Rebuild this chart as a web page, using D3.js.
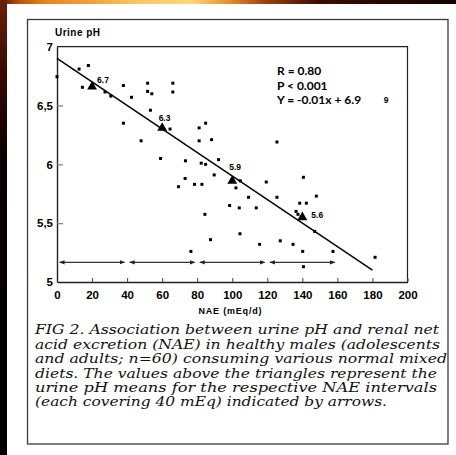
<!DOCTYPE html>
<html><head><meta charset="utf-8">
<script src="https://cdn.jsdelivr.net/npm/d3@7/dist/d3.min.js"></script>
<style>
html,body{margin:0;padding:0;background:#fff;}
svg{display:block;}
</style></head>
<body>
<script>
// ---- data ----
const nae = [0,12.6,17.9,14.5,27.4,30.7,37.9,37.9,42.5,48,51.7,51.7,54.1,53.3,66.1,66.1,64.5,59.1,
  81.1,84.8,81.1,88.2,125.5,73.3,82.3,84.8,92.2,73.1,69.3,78.5,82.7,89.7,104.6,102.1,109.3,98.5,104,
  113.7,119.4,125.5,84.4,104.4,87.6,76.4,115.6,127.4,140.6,148,138.5,142.3,136.4,137.5,147,134.7,
  140.2,157.5,181.5,140.6];
const ph = [6.745,6.81,6.84,6.655,6.615,6.58,6.67,6.35,6.57,6.2,6.69,6.62,6.60,6.46,6.69,6.615,6.30,6.05,
  6.31,6.35,6.20,6.21,6.19,6.03,6.01,6.00,6.04,5.88,5.81,5.83,5.83,5.91,5.86,5.80,5.72,5.65,5.63,
  5.63,5.85,5.72,5.575,5.41,5.36,5.26,5.32,5.35,5.89,5.73,5.67,5.67,5.60,5.575,5.43,5.32,
  5.26,5.26,5.21,5.13];
const meanNae = [20, 60, 100, 140];
const meanPh = [6.66, 6.31, 5.86, 5.55];
const meanLabels = ["6.7", "6.3", "5.9", "5.6"];
const intervalStart = [0, 40, 80, 120];
const intervalEnd = [40, 80, 120, 160];
const arrowPh = 5.167;
const xTicks = [0,20,40,60,80,100,120,140,160,180,200];
const yTicks = [5,5.5,6,6.5,7];
const fitSlope = -0.01, fitIntercept = 6.9, fitRange = [0, 180];
const statLines = ["R = 0.80", "P < 0.001", "Y = -0.01x + 6.9"];
const captionLines = [
  "FIG 2. Association between urine pH and renal net",
  "acid excretion (NAE) in healthy males (adolescents",
  "and adults; n=60) consuming various normal mixed",
  "diets. The values above the triangles represent the",
  "urine pH means for the respective NAE intervals",
  "(each covering 40 mEq) indicated by arrows."
];

// ---- layout ----
const W = 456, H = 455;
const svg = d3.select("body").append("svg").attr("width", W).attr("height", H);
const defs = svg.append("defs");

const gTop = defs.append("linearGradient").attr("id","gTop");
[[0,"#4a1204"],[0.04,"#b8500e"],[0.1,"#e8861c"],[0.2,"#f0a040"],[0.3,"#f6c860"],[0.42,"#fbd878"],[0.5,"#e89030"],[0.58,"#a04010"],[0.7,"#3a0c02"],[1,"#140200"]]
  .forEach(s => gTop.append("stop").attr("offset", s[0]).attr("stop-color", s[1]));
const gLeft = defs.append("linearGradient").attr("id","gLeft").attr("x1",0).attr("y1",0).attr("x2",0).attr("y2",1);
[[0,"#6a2008"],[0.15,"#3a0a02"],[0.35,"#0a0000"],[1,"#000"]]
  .forEach(s => gLeft.append("stop").attr("offset", s[0]).attr("stop-color", s[1]));

svg.append("rect").attr("x",0).attr("y",0).attr("width",W).attr("height",4).attr("fill","url(#gTop)");
svg.append("rect").attr("x",0).attr("y",0).attr("width",7).attr("height",H).attr("fill","url(#gLeft)");

// outer frame
svg.append("rect").attr("x",27.5).attr("y",19.5).attr("width",420.5).attr("height",424.5)
  .attr("fill","none").attr("stroke","#3a3a3a").attr("stroke-width",1.3);

const x = d3.scaleLinear().domain([0,200]).range([57,407.5]);
const y = d3.scaleLinear().domain([5,7]).range([282,46.7]);

// plot box top/right
svg.append("path").attr("d", `M${x(0)},${y(7)}H${x(200)}V${y(5)}`)
  .attr("fill","none").attr("stroke","#222").attr("stroke-width",1.2);

// x axis
const xAxis = svg.append("g").attr("transform",`translate(0,${y(5)})`)
  .call(d3.axisBottom(x).tickValues(xTicks).tickSize(-4).tickSizeOuter(0).tickPadding(9));
xAxis.select(".domain").attr("stroke","#222").attr("stroke-width",1.4);
xAxis.selectAll(".tick line").attr("stroke","#444").attr("stroke-width",1);
xAxis.selectAll(".tick text").attr("font-family","Liberation Sans, Arial, sans-serif")
  .attr("font-size",11.5).attr("font-weight","bold").attr("fill","#000");

// y axis
const yAxis = svg.append("g").attr("transform",`translate(${x(0)},0)`)
  .call(d3.axisLeft(y).tickValues(yTicks).tickSize(-6).tickSizeOuter(0).tickPadding(4)
    .tickFormat(d => String(d).replace(".", ",")));
yAxis.select(".domain").attr("stroke","#222").attr("stroke-width",1.4);
yAxis.selectAll(".tick line").attr("stroke","#777").attr("stroke-width",1.2)
  .filter(d => d === 5 || d === 7).remove();
yAxis.selectAll(".tick text").attr("font-family","Liberation Sans, Arial, sans-serif")
  .attr("font-size",11.5).attr("font-weight","bold").attr("fill","#000");

// axis titles
svg.append("text").attr("x",55).attr("y",36).text("Urine pH")
  .attr("font-family","Liberation Sans, Arial, sans-serif").attr("font-size",10).attr("font-weight","bold")
  .attr("textLength",45).attr("lengthAdjust","spacing");
svg.append("text").attr("x",198.5).attr("y",313.5).text("NAE (mEq/d)")
  .attr("font-family","Liberation Sans, Arial, sans-serif").attr("font-size",9).attr("font-weight","bold")
  .attr("textLength",63).attr("lengthAdjust","spacing");

// regression line
svg.append("line")
  .attr("x1", x(fitRange[0])).attr("y1", y(fitIntercept + fitSlope*fitRange[0]))
  .attr("x2", x(fitRange[1])).attr("y2", y(fitIntercept + fitSlope*fitRange[1]))
  .attr("stroke","#000").attr("stroke-width",1.5);

// points
svg.append("g").selectAll("rect").data(d3.range(nae.length)).join("rect")
  .attr("x", i => x(nae[i]) - 1.5).attr("y", i => y(ph[i]) - 1.5)
  .attr("width",3).attr("height",3).attr("fill","#000");

// triangles
const tri = d3.symbol().type(d3.symbolTriangle).size(42);
svg.append("g").selectAll("path").data(d3.range(meanNae.length)).join("path")
  .attr("transform", i => `translate(${x(meanNae[i])},${y(meanPh[i])})`)
  .attr("d", tri).attr("fill","#000");
const labelOffset = [[5,-4],[-3.5,-7],[-3,-11],[9,0.5]];
svg.append("g").selectAll("text").data(d3.range(meanNae.length)).join("text")
  .attr("x", i => x(meanNae[i]) + labelOffset[i][0])
  .attr("y", i => y(meanPh[i]) + labelOffset[i][1])
  .text(i => meanLabels[i])
  .attr("font-family","Liberation Sans, Arial, sans-serif").attr("font-size",8.5).attr("font-weight","bold");

// interval arrows
defs.append("marker").attr("id","ah").attr("viewBox","0 0 10 10").attr("refX",9).attr("refY",5)
  .attr("markerWidth",5).attr("markerHeight",5).attr("orient","auto-start-reverse")
  .append("path").attr("d","M0,1L10,5L0,9Z").attr("fill","#222");
svg.append("g").selectAll("line").data(d3.range(intervalStart.length)).join("line")
  .attr("x1", i => x(intervalStart[i] + 1.5)).attr("x2", i => x(intervalEnd[i] - 1.5))
  .attr("y1", y(arrowPh)).attr("y2", y(arrowPh))
  .attr("stroke","#333").attr("stroke-width",1.1)
  .attr("marker-start","url(#ah)").attr("marker-end","url(#ah)");

// stats text
svg.append("g").selectAll("text").data(statLines).join("text")
  .attr("x",277).attr("y",(d,i) => 75 + i*14.7).text(d => d)
  .attr("font-family","Lato, 'Open Sans', sans-serif").attr("font-size",12).attr("font-weight","bold");
svg.append("text").attr("x",386).attr("y",103).attr("text-anchor","middle").text("9")
  .attr("font-family","Liberation Sans, Arial, sans-serif").attr("font-size",8.5).attr("font-weight","bold");

// caption
const capEnds = [439, 440, 447, 437, 437, 387];
svg.append("g").selectAll("text").data(captionLines).join("text")
  .attr("x",35).attr("y",(d,i) => 334.3 + i*14.4).text(d => d)
  .attr("font-family","'DejaVu Serif', serif").attr("font-style","italic").attr("font-size",12.2)
  .attr("fill","#111")
  .attr("textLength",(d,i) => capEnds[i] - 35).attr("lengthAdjust","spacingAndGlyphs");
</script>
</body></html>
